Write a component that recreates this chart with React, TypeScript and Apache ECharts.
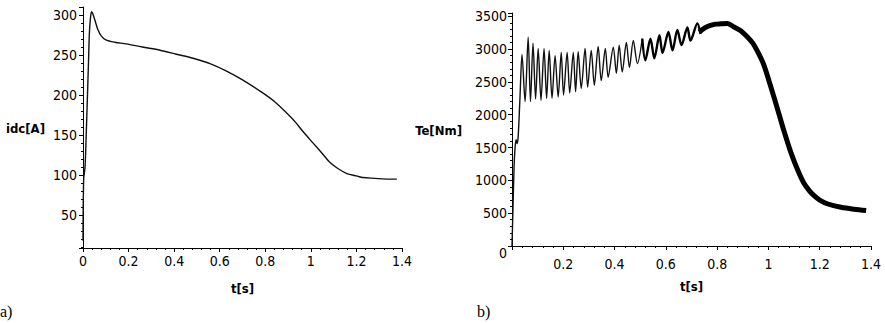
import React, { useEffect, useRef } from "react";
import * as echarts from "echarts";

// ---- Data ----
// a) DC-link current idc [A] versus time t [s]
const idcTime = [0, 0.003, 0.009, 0.014, 0.019, 0.024, 0.028, 0.033, 0.038, 0.045, 0.055, 0.065, 0.08, 0.1, 0.14, 0.19, 0.26, 0.338, 0.41, 0.483, 0.56, 0.63, 0.7, 0.777, 0.84, 0.92, 0.97, 1.01, 1.05, 1.083, 1.12, 1.158, 1.2, 1.228, 1.28, 1.33, 1.377];
const idcValue = [18, 95, 110, 150, 194, 240, 277, 297, 304, 300, 291, 282, 274, 269, 266, 264, 260, 256, 251, 246, 239, 230, 219, 205, 192, 170, 153, 140, 127, 116, 108, 102, 99, 97, 96, 95, 95];

// b) Electromagnetic torque Te [Nm]: start-up and oscillation peaks/troughs (first part)
const teOscTime = [0, 0.004, 0.008, 0.012, 0.016, 0.02, 0.024, 0.031, 0.039, 0.051, 0.063, 0.072, 0.082, 0.092, 0.102, 0.113, 0.125, 0.135, 0.145, 0.156, 0.168, 0.18, 0.192, 0.201, 0.215, 0.225, 0.239, 0.248, 0.258, 0.27, 0.285, 0.295, 0.309, 0.321, 0.336, 0.348, 0.364, 0.375, 0.395, 0.407, 0.418, 0.43, 0.446, 0.458, 0.473, 0.489, 0.508];
const teOscValue = [0, 600, 1200, 1500, 1620, 1560, 1660, 2250, 2920, 2200, 3180, 2200, 3090, 2240, 3010, 2220, 3010, 2250, 2980, 2250, 2900, 2270, 2950, 2300, 2950, 2330, 2950, 2350, 2960, 2400, 3010, 2420, 2980, 2450, 3040, 2520, 3010, 2570, 3030, 2630, 3060, 2650, 3100, 2720, 3130, 2780, 3160];
// b) Te: oscillation peaks/troughs (second part, noisier trace)
const teOsc2Time = [0.508, 0.52, 0.54, 0.555, 0.575, 0.587, 0.61, 0.626, 0.645, 0.661, 0.684, 0.696, 0.723, 0.735];
const teOsc2Value = [3160, 2830, 3160, 2860, 3210, 2940, 3260, 2980, 3290, 3060, 3330, 3130, 3390, 3230];
// b) Te: later part, drawn as a thick noisy band (centre line)
const teBandTime = [0.73, 0.755, 0.774, 0.794, 0.813, 0.841, 0.864, 0.892, 0.919, 0.939, 0.958, 0.982, 1.009, 1.036, 1.06, 1.087, 1.115, 1.138, 1.16, 1.177, 1.2, 1.232, 1.283, 1.334, 1.381];
const teBandValue = [3260, 3330, 3360, 3380, 3385, 3390, 3340, 3280, 3180, 3090, 2960, 2760, 2430, 2080, 1760, 1430, 1150, 960, 840, 770, 700, 640, 590, 560, 540];

const COND = "'DejaVu Sans Condensed', 'Liberation Sans Narrow', 'Liberation Sans', sans-serif";
const SERIF = "'Liberation Serif', 'DejaVu Serif', serif";

const pairs = (xs: number[], ys: number[]) => xs.map((x, i) => [x, ys[i]]);

function baseXAxis(gridIndex: number, labelMargin: number, hideZero: boolean) {
  return {
    gridIndex,
    type: "value",
    min: 0,
    max: 1.4,
    interval: 0.2,
    name: "t[s]",
    nameLocation: "middle",
    nameGap: 34,
    nameTextStyle: { color: "#000", fontFamily: COND, fontWeight: "bold", fontSize: 13 },
    axisLine: { show: true, onZero: false, lineStyle: { color: "#000", width: 1 } },
    axisTick: { show: true, length: 4, lineStyle: { color: "#000" } },
    minorTick: { show: true, splitNumber: 5, length: 2, lineStyle: { color: "#000" } },
    splitLine: { show: false },
    minorSplitLine: { show: false },
    axisLabel: {
      color: "#000",
      fontFamily: COND,
      fontSize: 14,
      margin: labelMargin,
      formatter: (v: number) => (hideZero && v === 0 ? "" : String(Math.round(v * 10) / 10)),
    },
  };
}

export default function App() {
  const ref = useRef<HTMLDivElement>(null);

  useEffect(() => {
    if (!ref.current) return;
    const chart = echarts.init(ref.current, undefined, { renderer: "svg" });
    const yLabel = { color: "#000", fontFamily: COND, fontSize: 14 };
    const option = {
      animation: false,
      backgroundColor: "#ffffff",
      grid: [
        { left: 83, top: 7, width: 319, height: 241 },
        { left: 512, top: 13, width: 359, height: 233 },
      ],
      xAxis: [baseXAxis(0, 6, false), baseXAxis(1, 11, true)],
      yAxis: [
        {
          gridIndex: 0,
          type: "value",
          min: 9,
          max: 310,
          splitNumber: 6,
          axisLine: { show: true, onZero: false, lineStyle: { color: "#000", width: 1 } },
          axisTick: { show: true, length: 4, lineStyle: { color: "#000" } },
          minorTick: { show: true, splitNumber: 5, length: 2, lineStyle: { color: "#000" } },
          splitLine: { show: false },
          axisLabel: {
            ...yLabel,
            margin: 6,
            formatter: (v: number) => (Math.abs(v % 50) < 1e-6 ? String(v) : ""),
          },
        },
        {
          gridIndex: 1,
          type: "value",
          min: 0,
          max: 3550,
          interval: 500,
          axisLine: { show: true, onZero: false, lineStyle: { color: "#000", width: 1 } },
          axisTick: { show: true, length: 4, lineStyle: { color: "#000" } },
          minorTick: { show: true, splitNumber: 5, length: 2, lineStyle: { color: "#000" } },
          splitLine: { show: false },
          axisLabel: {
            ...yLabel,
            margin: 5,
            formatter: (v: number) => {
              if (v === 0) return "{z|0}";
              return Math.abs(v % 500) < 1e-6 ? String(v) : "";
            },
            rich: {
              z: { color: "#000", fontFamily: COND, fontSize: 14, padding: [14, 0, 0, 0] },
            },
          },
        },
      ],
      series: [
        {
          type: "line",
          xAxisIndex: 0,
          yAxisIndex: 0,
          data: pairs(idcTime, idcValue),
          showSymbol: false,
          smooth: 0.3,
          lineStyle: { color: "#111", width: 1.4 },
        },
        {
          type: "line",
          xAxisIndex: 1,
          yAxisIndex: 1,
          data: pairs(teOscTime, teOscValue),
          showSymbol: false,
          smooth: 0.3,
          lineStyle: { color: "#111", width: 1.4 },
        },
        {
          type: "line",
          xAxisIndex: 1,
          yAxisIndex: 1,
          data: pairs(teOsc2Time, teOsc2Value),
          showSymbol: false,
          smooth: 0.3,
          lineStyle: { color: "#000", width: 2.4 },
        },
        {
          type: "line",
          xAxisIndex: 1,
          yAxisIndex: 1,
          data: pairs(teBandTime, teBandValue),
          showSymbol: false,
          smooth: 0.3,
          lineStyle: { color: "#000", width: 5 },
        },
      ],
      graphic: [
        {
          type: "text",
          x: 45,
          y: 128,
          style: {
            text: "idc[A]",
            fontFamily: COND,
            fontWeight: "bold",
            fontSize: 13,
            fill: "#000",
            textAlign: "right",
            align: "right",
            textVerticalAlign: "middle",
            verticalAlign: "middle",
          },
        },
        {
          type: "text",
          x: 462,
          y: 130,
          style: {
            text: "Te[Nm]",
            fontFamily: COND,
            fontWeight: "bold",
            fontSize: 13,
            fill: "#000",
            textAlign: "right",
            align: "right",
            textVerticalAlign: "middle",
            verticalAlign: "middle",
          },
        },
        {
          type: "text",
          x: 0,
          y: 311,
          style: {
            text: "a)",
            fontFamily: SERIF,
            fontSize: 16,
            fill: "#000",
            textAlign: "left",
            align: "left",
            textVerticalAlign: "middle",
            verticalAlign: "middle",
          },
        },
        {
          type: "text",
          x: 477,
          y: 311,
          style: {
            text: "b)",
            fontFamily: SERIF,
            fontSize: 16,
            fill: "#000",
            textAlign: "left",
            align: "left",
            textVerticalAlign: "middle",
            verticalAlign: "middle",
          },
        },
      ],
    };
    chart.setOption(option as any);
    return () => chart.dispose();
  }, []);

  return (
    <div
      ref={ref}
      style={{ position: "fixed", left: 0, top: 0, width: 885, height: 323, background: "#fff" }}
    />
  );
}
